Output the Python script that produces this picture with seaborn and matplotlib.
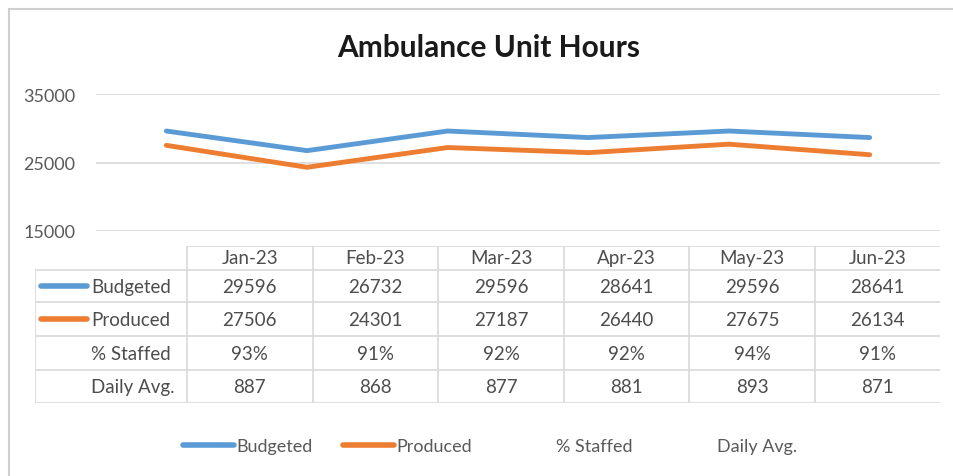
import matplotlib
matplotlib.use("Agg")
import matplotlib.pyplot as plt
from matplotlib.lines import Line2D
import seaborn as sns
import pandas as pd

# ---- data ----
months = ["Jan-23", "Feb-23", "Mar-23", "Apr-23", "May-23", "Jun-23"]
budgeted = [29596, 26732, 29596, 28641, 29596, 28641]
produced = [27506, 24301, 27187, 26440, 27675, 26134]
pct_staffed = [93, 91, 92, 92, 94, 91]
daily_avg = [887, 868, 877, 881, 893, 871]
y_ticks = [15000, 25000, 35000]
title = "Ambulance Unit Hours"

BLUE = "#5B9BD5"
ORANGE = "#ED7D31"
GRID = "#d9d9d9"
TXT = "#595959"

sns.set_theme(style="white")
plt.rcParams["font.family"] = ["Lato", "DejaVu Sans"]

W, H = 954, 477
fig = plt.figure(figsize=(W / 100, H / 100), dpi=100)
fig.patch.set_facecolor("white")

def fx(px):
    return px / W

def fy(py):
    return 1 - py / H

# outer frame (top + left)
fig.add_artist(Line2D([fx(9), fx(9)], [0, fy(10)], transform=fig.transFigure, color="#d0d0d0", lw=1.5))
fig.add_artist(Line2D([fx(9), 1], [fy(10), fy(10)], transform=fig.transFigure, color="#d0d0d0", lw=1.5))

# ---- line chart ----
ax = fig.add_axes([fx(96), fy(232), fx(844), 137 / H])
df = pd.DataFrame({
    "idx": list(range(len(months))) * 2,
    "value": budgeted + produced,
    "series": ["Budgeted"] * len(months) + ["Produced"] * len(months),
})
sns.lineplot(data=df, x="idx", y="value", hue="series", palette=[BLUE, ORANGE],
             lw=3.5, legend=False, ax=ax)
ax.set_xlim(-0.5, len(months) - 0.5)
ax.set_ylim(y_ticks[0], y_ticks[-1])
ax.set_yticks(y_ticks)
ax.set_yticklabels([str(t) for t in y_ticks])
ax.set_xticks([])
ax.set_xlabel("")
ax.set_ylabel("")
ax.yaxis.grid(True, color=GRID, lw=1.2)
ax.set_axisbelow(True)
for s in ax.spines.values():
    s.set_visible(False)
ax.tick_params(axis="y", length=0, pad=15, labelsize=13, labelcolor=TXT)
ax.patch.set_alpha(0)

fig.text(fx(488.5), fy(48), title, ha="center", va="center", fontsize=21.5,
         fontweight="bold", color="#1a1a1a")

# ---- data table ----
tax = fig.add_axes([fx(35), fy(404), fx(905), 157 / H])
tax.set_xlim(35, 940)
tax.set_ylim(404, 247)
tax.axis("off")
x0, c0, cw = 35, 187, 125.6
col_edges = [c0 + i * cw for i in range(len(months) + 1)]
row_edges = [247, 271, 303.5, 337.5, 371.5, 404]
lc = dict(color=GRID, lw=1.2)
tax.plot([c0, col_edges[-1]], [row_edges[0]] * 2, **lc)
for r in row_edges[1:]:
    tax.plot([x0, col_edges[-1]], [r, r], **lc)
tax.plot([x0, x0], [row_edges[1], row_edges[-1]], **lc)
for c in col_edges:
    tax.plot([c, c], [row_edges[0], row_edges[-1]], **lc)

fs = 13.5
TCOL = "#4d4d4d"
for i, m in enumerate(months):
    cx = c0 + (i + 0.5) * cw
    tax.text(cx, (row_edges[0] + row_edges[1]) / 2, m, ha="center", va="center", fontsize=fs, color=TCOL)
rows = [
    ("Budgeted", [str(v) for v in budgeted], BLUE),
    ("Produced", [str(v) for v in produced], ORANGE),
    ("% Staffed", [f"{v}%" for v in pct_staffed], None),
    ("Daily Avg.", [str(v) for v in daily_avg], None),
]
for r, (lab, vals, col) in enumerate(rows):
    cy = (row_edges[r + 1] + row_edges[r + 2]) / 2
    tax.text(91, cy, lab, ha="left", va="center", fontsize=fs, color=TCOL)
    if col:
        tax.plot([41, 87], [cy, cy], color=col, lw=4, solid_capstyle="round")
    for i, v in enumerate(vals):
        tax.text(c0 + (i + 0.5) * cw, cy, v, ha="center", va="center", fontsize=fs, color=TCOL)

# ---- legend ----
handles = [Line2D([], [], color=BLUE, lw=4), Line2D([], [], color=ORANGE, lw=4),
           Line2D([], [], color="none"), Line2D([], [], color="none")]
labels = ["Budgeted", "Produced", "% Staffed", "Daily Avg."]
fig.legend(handles, labels, loc="center", bbox_to_anchor=(fx(490), fy(447)), ncol=4,
           frameon=False, fontsize=13, handlelength=2.8, handletextpad=0.15,
           columnspacing=1.7, labelcolor=TXT)

fig.savefig("out.png", dpi=100, facecolor="white")
